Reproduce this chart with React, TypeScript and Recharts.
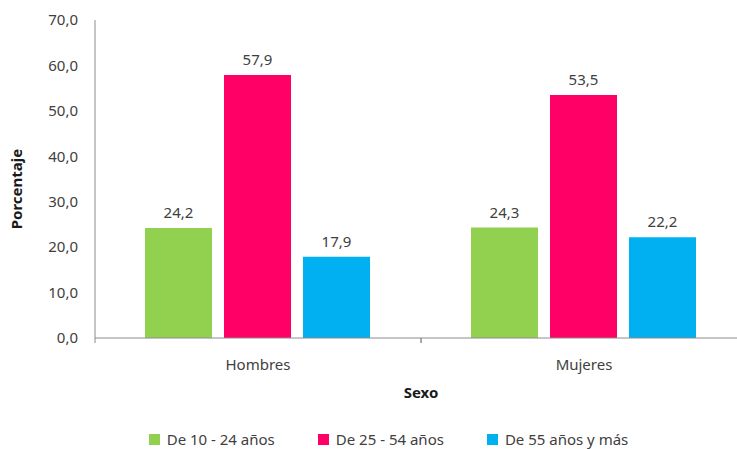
import { BarChart, Bar, XAxis, YAxis, LabelList, Legend } from "recharts";

const categories = ["Hombres", "Mujeres"];
const edad10a24 = [24.2, 24.3];
const edad25a54 = [57.9, 53.5];
const edad55mas = [17.9, 22.2];
const yTicks = [0, 10, 20, 30, 40, 50, 60, 70];

const SERIES = [
  { key: "a", name: "De 10 - 24 años", color: "#92D050" },
  { key: "b", name: "De 25 - 54 años", color: "#FF0066" },
  { key: "c", name: "De 55 años y más", color: "#00B0F0" },
];

const data = categories.map((sexo, i) => ({
  sexo,
  a: edad10a24[i],
  b: edad25a54[i],
  c: edad55mas[i],
}));

const FONT = "'Noto Sans', 'Open Sans', sans-serif";
const TEXT = "#404040";
const AXIS = "#8c8c8c";
const FS = 15;
const CHART_W = 747;
const PLOT_LEFT = 95;
const HALF_BAND = (CHART_W - PLOT_LEFT) / categories.length / 2;

const fmt = (v: number) => v.toFixed(1).replace(".", ",");

function CategoryTick(props: any) {
  const { x, y, payload } = props;
  return (
    <g>
      <line x1={x - HALF_BAND} x2={x - HALF_BAND} y1={y - 8} y2={y - 3} stroke={AXIS} />
      <line x1={x + HALF_BAND} x2={x + HALF_BAND} y1={y - 8} y2={y - 3} stroke={AXIS} />
      <text x={x} y={y + 24} textAnchor="middle" fill={TEXT} fontSize={FS} fontFamily={FONT}>
        {payload.value}
      </text>
    </g>
  );
}

function YLabel(props: any) {
  const { viewBox } = props;
  const cy = viewBox.y + viewBox.height / 2 + 10;
  return (
    <text
      x={22}
      y={cy}
      transform={`rotate(-90, 22, ${cy})`}
      textAnchor="middle"
      fill="#1a1a1a"
      fontSize={FS}
      fontWeight="bold"
      fontFamily={FONT}
    >
      Porcentaje
    </text>
  );
}

function LegendBox() {
  return (
    <div style={{ display: "flex", justifyContent: "center", gap: 43, fontFamily: FONT, fontSize: FS, color: TEXT }}>
      {SERIES.map((s) => (
        <div key={s.key} style={{ display: "flex", alignItems: "center", gap: 7 }}>
          <span style={{ width: 11, height: 11, background: s.color, display: "inline-block" }} />
          <span>{s.name}</span>
        </div>
      ))}
    </div>
  );
}

export default function App() {
  return (
    <div style={{ position: "absolute", left: 0, top: 0, width: 737, height: 449, overflow: "hidden", background: "#fff" }}>
      <BarChart
        width={CHART_W}
        height={449}
        data={data}
        margin={{ top: 20, right: 0, left: 0, bottom: 41 }}
        barCategoryGap={50}
        barGap={12}
      >
        <XAxis
          dataKey="sexo"
          height={70}
          stroke={AXIS}
          tickLine={false}
          tick={<CategoryTick />}
          label={{ value: "Sexo", position: "insideBottom", offset: 10, fill: "#1a1a1a", fontSize: FS, fontWeight: "bold", fontFamily: FONT }}
        />
        <YAxis
          width={PLOT_LEFT}
          domain={[0, 70]}
          ticks={yTicks}
          tickFormatter={fmt}
          stroke={AXIS}
          tickLine={false}
          tick={{ fill: TEXT, fontSize: FS, fontFamily: FONT }}
          tickMargin={11}
          label={<YLabel />}
        />
        <Legend
          verticalAlign="middle"
          align="center"
          layout="horizontal"
          content={<LegendBox />}
          wrapperStyle={{ top: 429, left: 40, width: 697 }}
        />
        {SERIES.map((s) => (
          <Bar key={s.key} dataKey={s.key} name={s.name} fill={s.color} isAnimationActive={false}>
            <LabelList
              dataKey={s.key}
              position="top"
              offset={10}
              formatter={(v: any) => fmt(Number(v))}
              fill={TEXT}
              fontSize={FS}
              fontFamily={FONT}
            />
          </Bar>
        ))}
      </BarChart>
    </div>
  );
}
